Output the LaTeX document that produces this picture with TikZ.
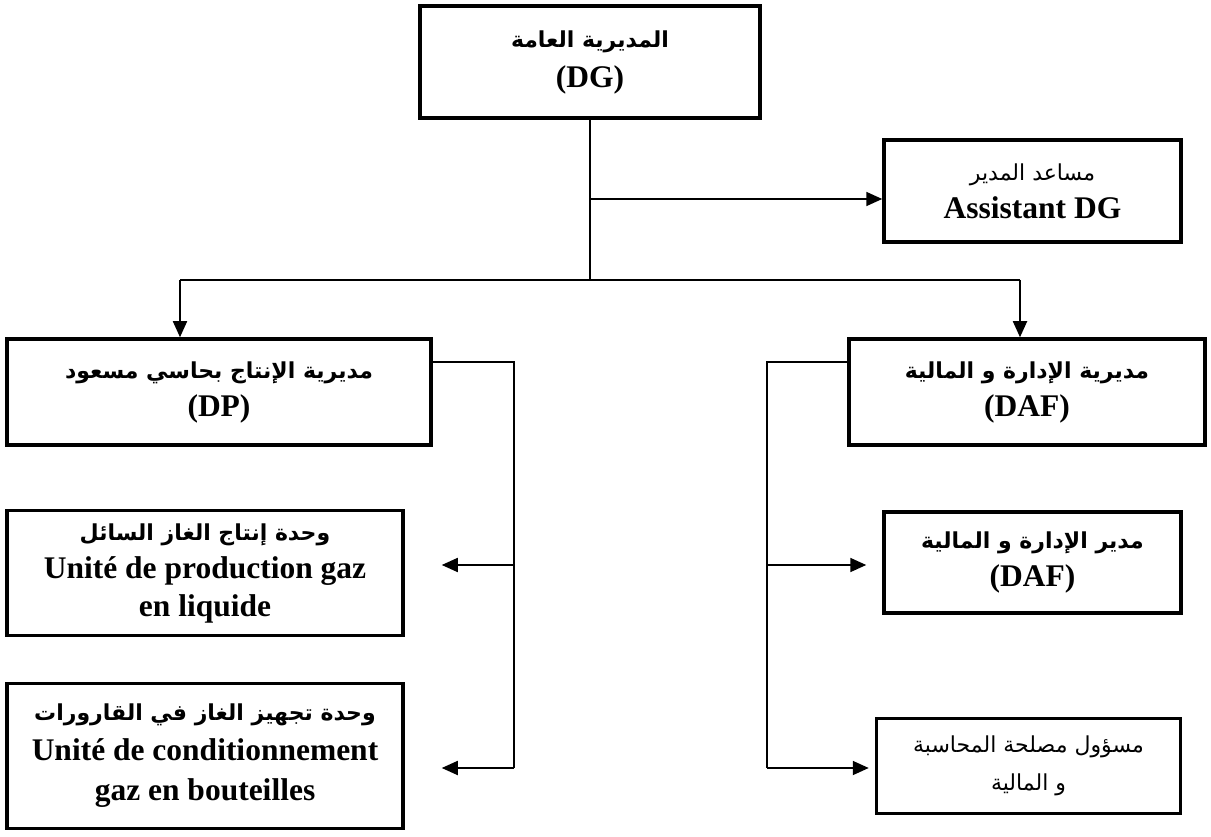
\documentclass[tikz,border=0pt]{standalone}
\usepackage{fontspec}
\usetikzlibrary{arrows.meta}
\setmainfont{Liberation Serif}
\newfontfamily\arb[Script=Arabic]{DejaVu Sans}
\TeXXeTstate=1
\newcommand\artxt[1]{{\arb\fontsize{22}{38}\selectfont\beginR #1\endR}}
\newcommand\artxtm[1]{{\arb\mdseries\fontsize{22}{38}\selectfont\beginR #1\endR}}
\begin{document}
\begin{tikzpicture}[x=1pt,y=-1pt,
  box/.style={draw,line width=3.5pt,inner sep=0pt,align=center,font=\bfseries\fontsize{31.5}{38}\selectfont},
  conn/.style={line width=1.8pt},
  arr/.style={conn,-{Triangle[length=16pt,width=14pt]}}]
\useasboundingbox (0,0) rectangle (1211,837);
% boxes
\node[box,minimum width=340pt,minimum height=112pt] (dg) at (590,62) {\artxt{المديرية العامة}\\[2pt](DG)};
\node[box,minimum width=297pt,minimum height=102pt] (asst) at (1032.5,191) {\artxtm{مساعد المدير}\\Assistant DG};
\node[box,minimum width=424pt,minimum height=106pt] (dp) at (219,392) {\artxt{مديرية الإنتاج بحاسي مسعود}\\(DP)};
\node[box,minimum width=356pt,minimum height=106pt] (daf) at (1027,392) {\artxt{مديرية الإدارة و المالية}\\(DAF)};
\node[box,minimum width=396pt,minimum height=125pt] (prod) at (205,573) {\artxt{وحدة إنتاج الغاز السائل}\\Unité de production gaz\\en liquide};
\node[box,minimum width=396pt,minimum height=145pt] (cond) at (205,756) {\artxt{وحدة تجهيز الغاز في القارورات}\\[2pt]Unité de conditionnement\\[2pt]gaz en bouteilles};
\node[box,minimum width=297pt,minimum height=101pt] (dir) at (1032.5,562.5) {\artxt{مدير الإدارة و المالية}\\(DAF)};
\node[box,minimum width=304pt,minimum height=95pt] (comp) at (1028.5,766) {\artxtm{مسؤول مصلحة المحاسبة}\\\artxtm{و المالية}};
% junctions
\coordinate (j1) at (590,199);
\coordinate (bus) at (590,280);
\coordinate (bl) at (180,280);
\coordinate (br) at (1020,280);
\coordinate (pl) at (514,362);
\coordinate (pm) at (514,565);
\coordinate (pb) at (514,768);
\coordinate (ql) at (767,362);
\coordinate (qm) at (767,565);
\coordinate (qb) at (767,768);
% connectors
\draw[conn] (dg.south) -- (bus);
\draw[arr] (j1) -- (j1 -| asst.west);
\draw[conn] (bl) -- (br);
\draw[arr] (bl) -- (bl |- dp.north);
\draw[arr] (br) -- (br |- daf.north);
\draw[conn] (dp.east |- pl) -- (pl) -- (pb);
\draw[arr,shorten >=37pt] (pm) -- (pm -| prod.east);
\draw[arr,shorten >=37pt] (pb) -- (pb -| cond.east);
\draw[conn] (daf.west |- ql) -- (ql) -- (qb);
\draw[arr,shorten >=16pt] (qm) -- (qm -| dir.west);
\draw[arr,shorten >=6pt] (qb) -- (qb -| comp.west);
\end{tikzpicture}
\end{document}
